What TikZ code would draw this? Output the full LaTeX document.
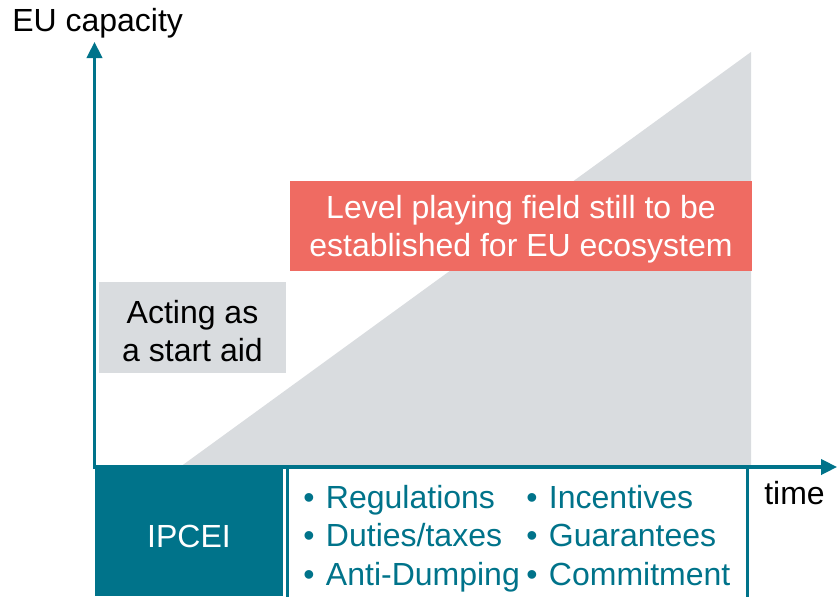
\documentclass[tikz,border=0pt]{standalone}
\usepackage{fontspec}
\setmainfont{Liberation Sans}
\usetikzlibrary{arrows.meta, positioning}

\definecolor{petrol}{RGB}{0,115,138}
\definecolor{paleGray}{RGB}{217,220,223}
\definecolor{coral}{RGB}{239,107,98}

\begin{document}
\begin{tikzpicture}[
  x=0.75pt, y=-0.75pt,
  font=\fontsize{24}{28.5}\selectfont,
  every node/.style={align=center},
  axis/.style={draw=petrol, line width=2.3pt,
    {Triangle[length=12pt,width=11.5pt]}-{Triangle[length=12pt,width=11.5pt]}},
  block/.style={inner sep=0pt},
  bulletlist/.style={inner sep=0pt, anchor=west, align=left, text=petrol,
    font=\fontsize{24}{28.9}\selectfont},
]
\useasboundingbox (0,0) rectangle (837,596);

% growth area
\coordinate (origin) at (94.5,467);
\coordinate (ytip) at (94.5,42);
\coordinate (xtip) at (837,467);
\fill[paleGray] (180,467) -- (751,52) -- (751,467) -- cycle;

% boxes above the axis
\node [block, fill=coral, minimum width=346.5pt, minimum height=67.5pt]
  (level) at (521,226) {};
\node [block, text=white] (level_text) at ([yshift=-2.6pt]level.center)
  {Level playing field still to be\\established for EU ecosystem};
\node [block, fill=paleGray, minimum width=140.25pt, minimum height=68.25pt]
  (aid) at (192.5,327.5) {};
\node [block] (aid_text) at ([yshift=-2.4pt]aid.center) {Acting as\\a start aid};

% boxes below the axis
\node [block, fill=petrol, minimum width=141pt, minimum height=95.25pt]
  (ipcei) at (189,532.5) {};
\node [block, text=white] (ipcei_text) at ([yshift=-3pt]ipcei.center) {IPCEI};
\node [block, draw=petrol, line width=2.3pt, minimum width=345pt, minimum height=99.75pt]
  (measures) at (517.5,533.5) {};
\node [bulletlist] (left_list) at (303,539)
  {\strut\textbullet\hspace{0.36em}Regulations\\\textbullet\hspace{0.36em}Duties/taxes\\\textbullet\hspace{0.36em}Anti-Dumping\strut};
\node [bulletlist] (right_list) at (526,539)
  {\strut\textbullet\hspace{0.36em}Incentives\\\textbullet\hspace{0.36em}Guarantees\\\textbullet\hspace{0.36em}Commitment\strut};

% axes
\draw[axis] (ytip) -- (origin) -- (xtip);
\node [block, anchor=base west] (ylabel) at (12,31) {EU capacity};
\node [block, anchor=base west] (xlabel) at (764,504) {time};

\end{tikzpicture}
\end{document}
